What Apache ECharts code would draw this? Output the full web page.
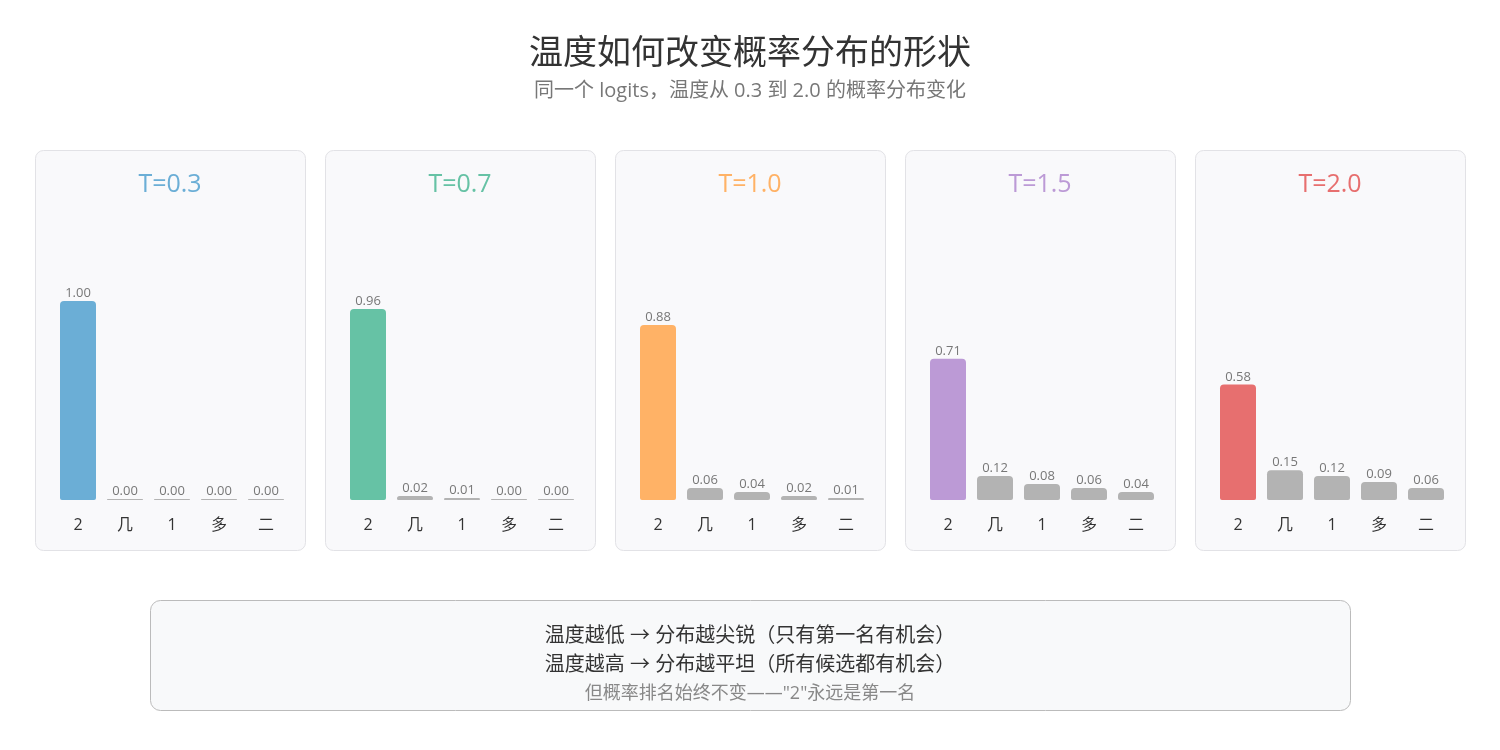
<!DOCTYPE html>
<html><head><meta charset="utf-8">
<script src="https://cdn.jsdelivr.net/npm/echarts@6/dist/echarts.min.js"></script>
<style>html,body{margin:0;padding:0;background:#fff;}#c{width:1500px;height:750px;}</style>
</head><body><div id="c"></div>
<script>
const categories = ['2', '几', '1', '多', '二'];
const temperatures = ['T=0.3', 'T=0.7', 'T=1.0', 'T=1.5', 'T=2.0'];
const probsT03 = [1.00, 0.00, 0.00, 0.00, 0.00];
const probsT07 = [0.96, 0.02, 0.01, 0.00, 0.00];
const probsT10 = [0.88, 0.06, 0.04, 0.02, 0.01];
const probsT15 = [0.71, 0.12, 0.08, 0.06, 0.04];
const probsT20 = [0.58, 0.15, 0.12, 0.09, 0.06];
const allProbs = [probsT03, probsT07, probsT10, probsT15, probsT20];
const colors = ['#6baed6', '#66c2a5', '#ffb266', '#bc9ad6', '#e76f6f'];
const grayColor = '#b3b3b3';
const mainTitle = '温度如何改变概率分布的形状';
const subTitle = '同一个 logits，温度从 0.3 到 2.0 的概率分布变化';
const noteLines = ['温度越低 → 分布越尖锐（只有第一名有机会）', '温度越高 → 分布越平坦（所有候选都有机会）'];
const noteSub = '但概率排名始终不变——"2"永远是第一名';

const FONT = "'Open Sans', 'Noto Sans CJK SC', sans-serif";
const panelX0 = 35, panelPitch = 290, panelW = 270, panelTop = 150, panelH = 400;

function txt(text, x, y, size, color) {
  return {type: 'text', x: x, y: y, z: 10, style: {text: text, fill: color, fontSize: size, fontFamily: FONT, textAlign: 'center', textVerticalAlign: 'middle'}};
}
const grids = [], xAxes = [], yAxes = [], series = [], graphics = [];
graphics.push(txt(mainTitle, 750, 54, 34, '#333'));
graphics.push(txt(subTitle, 750, 91, 20, '#777'));
temperatures.forEach((t, i) => {
  const px = panelX0 + i * panelPitch;
  graphics.push({type: 'rect', z: -10, shape: {x: px + 0.5, y: panelTop + 0.5, width: panelW, height: panelH, r: 8},
    style: {fill: '#f9f9fb', stroke: '#e2e2e6', lineWidth: 1}});
  graphics.push(txt(t, px + panelW / 2, 185, 25, colors[i]));
  grids.push({left: px + 19.5, width: 235, top: 301, height: 199});
  xAxes.push({type: 'category', gridIndex: i, data: categories, axisLine: {show: false}, axisTick: {show: false},
    axisLabel: {color: '#333', fontSize: 16, margin: 17, fontFamily: FONT}});
  yAxes.push({type: 'value', gridIndex: i, min: 0, max: 1, show: false, splitLine: {show: false}});
  series.push({type: 'bar', xAxisIndex: i, yAxisIndex: i, barWidth: 36, barMinHeight: 1,
    data: allProbs[i].map((v, j) => ({value: v, itemStyle: {color: j === 0 ? colors[i] : grayColor, borderRadius: [4, 4, 2, 2]}})),
    label: {show: true, position: 'top', distance: 1, color: '#777', fontSize: 13, fontFamily: FONT,
      formatter: p => p.value.toFixed(2)}});
});
graphics.push({type: 'rect', z: -10, shape: {x: 150.5, y: 600.5, width: 1200, height: 110, r: 10},
  style: {fill: '#f8f9fa', stroke: '#bbbbbb', lineWidth: 1}});
graphics.push(txt(noteLines[0], 750, 636, 20, '#333'));
graphics.push(txt(noteLines[1], 750, 665, 20, '#333'));
graphics.push(txt(noteSub, 750, 694, 18, '#888'));

const chart = echarts.init(document.getElementById('c'), null, {renderer: 'canvas'});
chart.setOption({animation: false, backgroundColor: '#fff', grid: grids, xAxis: xAxes, yAxis: yAxes, series: series, graphic: graphics});
</script></body></html>
